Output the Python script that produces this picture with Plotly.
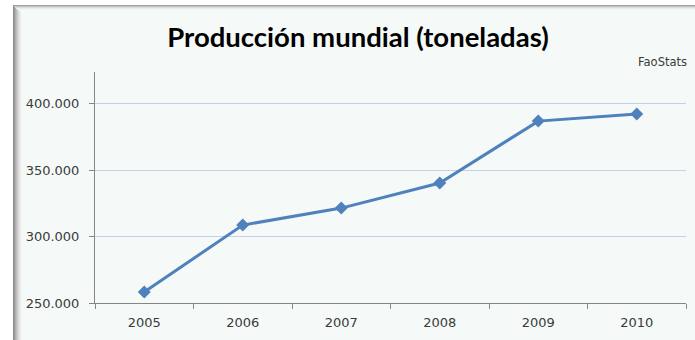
import plotly.graph_objects as go

# World production, tonnes (source: FaoStats)
years = ["2005", "2006", "2007", "2008", "2009", "2010"]
production = [258300, 308700, 321500, 340400, 387000, 392300]
y_ticks = [250000, 300000, 350000, 400000]

W, H = 695, 340
L, R, T, B = 95, 9, 72, 37
pw, ph = W - L - R, H - T - B

def px(x):
    return (x - L) / pw

def py(y):
    return (H - B - y) / ph

bg = "#f5faf8"
shapes = [
    dict(type="rect", xref="paper", yref="paper", x0=px(13), x1=px(W), y0=py(H), y1=py(5),
         fillcolor=bg, line=dict(width=0), layer="below"),
]
# soft shadow along the left and top edges of the chart panel
left_greys = ["#8c8c8c", "#9c9c9c", "#adadad", "#bdbdbd", "#cccccc", "#d9d9d9", "#e3e5e4", "#ecefee", "#f2f6f4"]
for i, c in enumerate(left_greys):
    shapes.append(dict(type="rect", xref="paper", yref="paper", x0=px(13 + i), x1=px(14 + i),
                       y0=py(H), y1=py(5 + i), fillcolor=c, line=dict(width=0), layer="below"))
top_greys = ["#a0a0a0", "#c4c4c4", "#dcdcdc", "#e9ecea", "#f1f5f3"]
for i, c in enumerate(top_greys):
    shapes.append(dict(type="rect", xref="paper", yref="paper", x0=px(13 + i), x1=px(W),
                       y0=py(6 + i), y1=py(5 + i), fillcolor=c, line=dict(width=0), layer="below"))

fig = go.Figure(go.Scatter(
    x=years, y=production, mode="lines+markers",
    line=dict(color="#4f81bd", width=3),
    marker=dict(symbol="diamond", size=10, color="#4f81bd"),
    hoverinfo="skip",
))

tick_font = dict(family="DejaVu Sans", size=13, color="#3a3a3a")
fig.update_layout(
    width=W, height=H,
    margin=dict(l=L, r=R, t=T, b=B, pad=0),
    paper_bgcolor="white", plot_bgcolor="rgba(0,0,0,0)",
    separators=",.",
    showlegend=False,
    shapes=shapes,
    title=dict(text="<b>Producción mundial (toneladas)</b>", x=358 / W, xanchor="center",
               y=1 - 37 / H, yanchor="middle",
               font=dict(family="Lato", size=27.5, color="#000000")),
    annotations=[dict(text="FaoStats", xref="paper", yref="paper", x=px(689), y=py(62),
                      xanchor="right", yanchor="middle", showarrow=False,
                      font=dict(family="DejaVu Sans", size=11.5, color="#3a3a3a"))],
    xaxis=dict(type="category", tickson="boundaries", ticks="outside", ticklen=5,
               tickcolor="#868686", showline=True, linecolor="#868686", linewidth=1,
               showgrid=False, tickfont=tick_font, range=[-0.5, 5.5],
               ticklabelstandoff=7),
    yaxis=dict(range=[250000, 424000], tickvals=y_ticks, tickformat=",d", ticks="outside",
               ticklen=5, tickcolor="#868686", showline=True, linecolor="#868686", linewidth=1,
               showgrid=True, gridcolor="#c3d3e6", gridwidth=1, zeroline=False,
               tickfont=tick_font, ticklabelstandoff=7),
)

fig.write_html("out.html")
